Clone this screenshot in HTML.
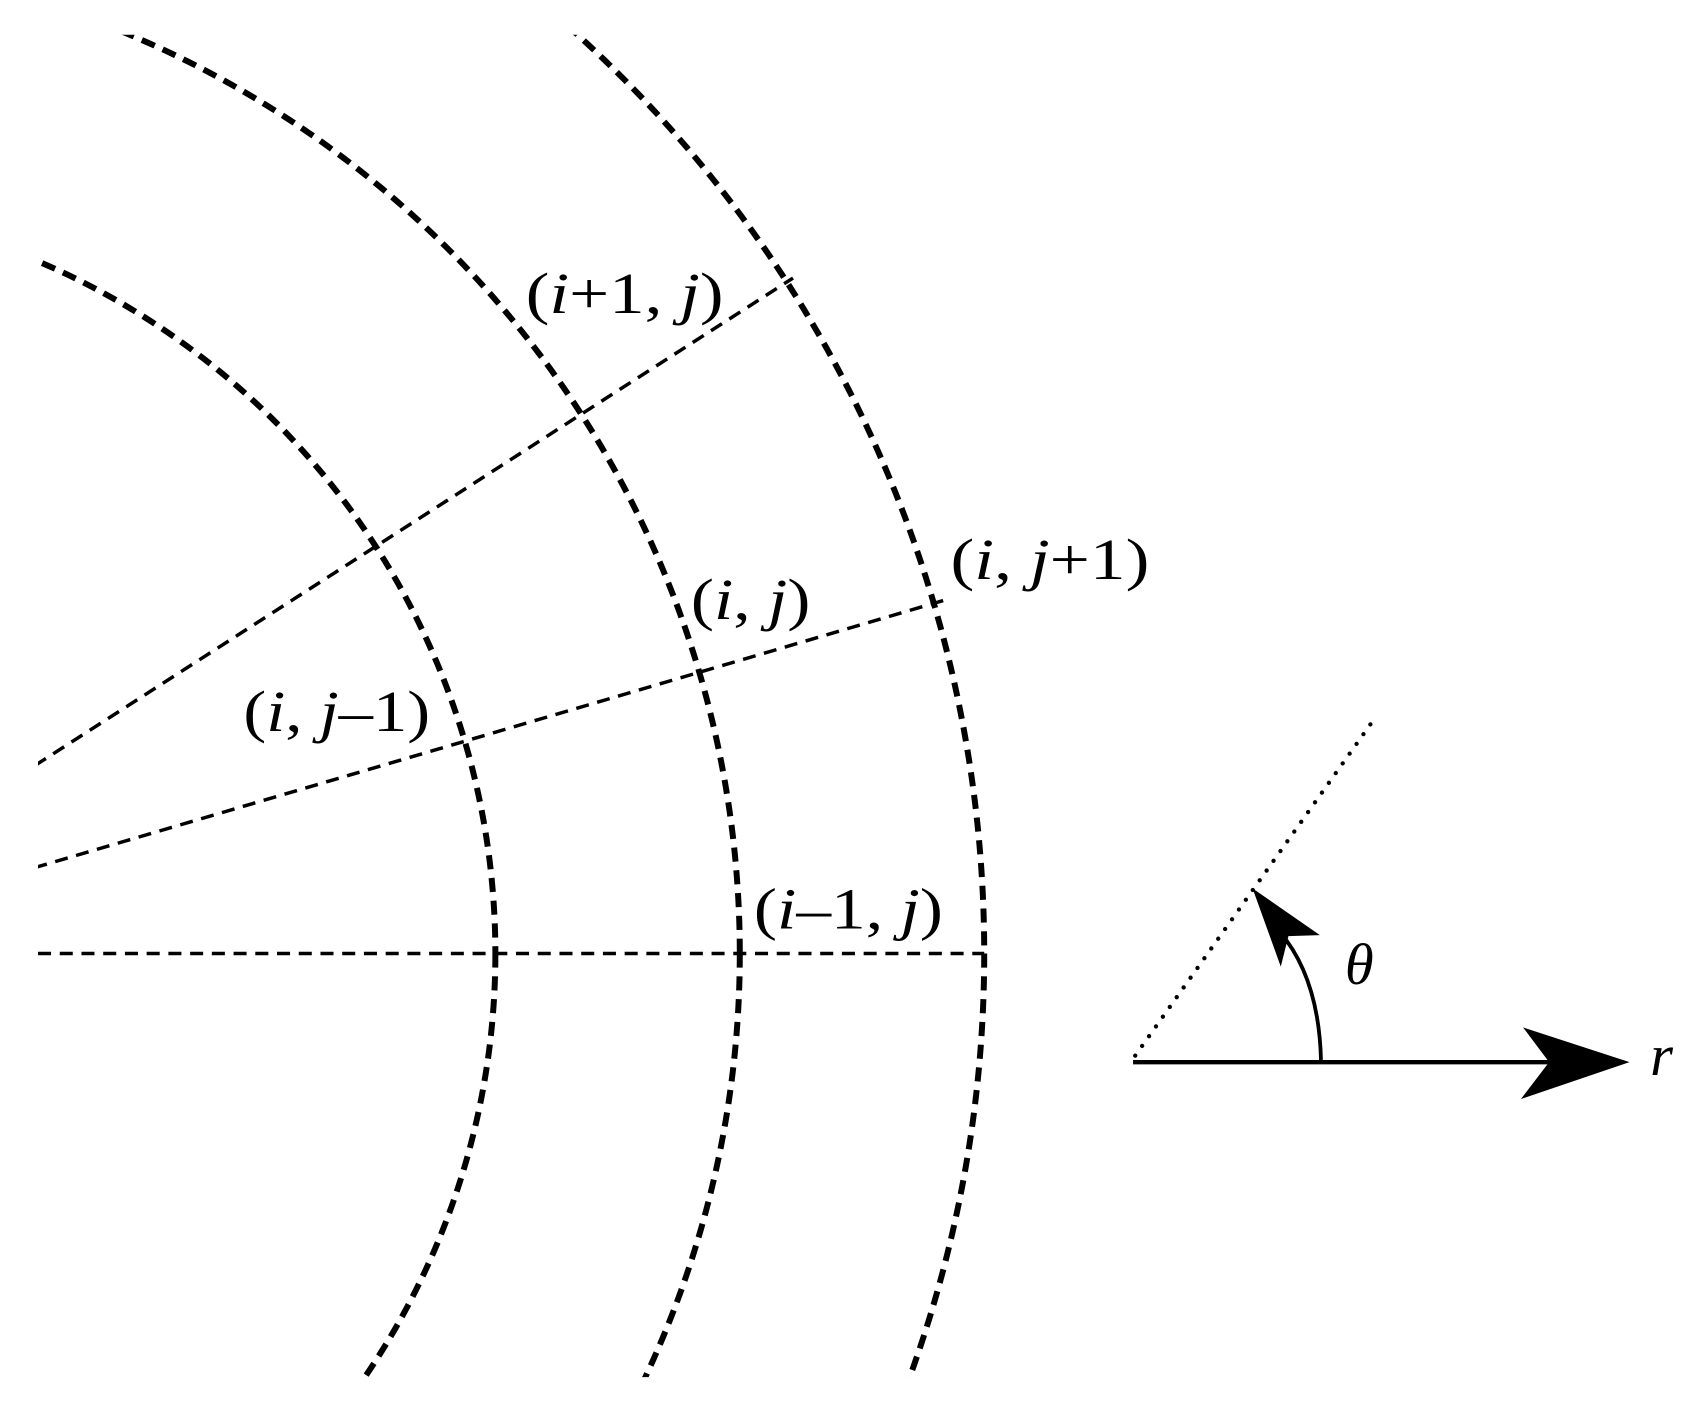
<!DOCTYPE html>
<html><head><meta charset="utf-8"><style>
html,body{margin:0;padding:0;background:#fff;overflow:hidden;width:1686px;height:1401px;}
svg{display:block;position:absolute;left:0;top:0;}
text{font-family:"Liberation Serif","Times New Roman",serif;font-size:54px;fill:#000;}
</style></head><body>
<svg width="1686" height="1401" viewBox="0 0 1552 1290" preserveAspectRatio="none">
<defs><clipPath id="c"><rect x="35" y="32" width="1000" height="1236"/></clipPath></defs>
<g clip-path="url(#c)" fill="none" stroke="#000">
<g stroke-width="5.5" stroke-dasharray="13 8">
<circle cx="-237" cy="878" r="693"/>
<circle cx="-237" cy="878" r="918"/>
<circle cx="-237" cy="878" r="1143"/>
</g>
<g stroke-width="3.2" stroke-dasharray="12 8">
<line x1="35" y1="878" x2="906" y2="878"/>
<line x1="-237" y1="878" x2="875" y2="551"/>
<line x1="-237" y1="878" x2="730" y2="256"/>
</g>
</g>
<line x1="1043" y1="978" x2="1430" y2="978" stroke="#000" stroke-width="4"/>
<polygon points="1500,978 1402,946 1426,978 1400,1012" fill="#000"/>
<line x1="1045" y1="972" x2="1265" y2="662" stroke="#000" stroke-width="4" stroke-dasharray="0 11" stroke-linecap="round"/>
<path d="M1216,976 Q1214,900 1178,858" fill="none" stroke="#000" stroke-width="3.5"/>
<polygon points="1153,818 1215,861 1186,862 1179,890" fill="#000"/>
<text x="1238" y="906" font-style="italic">θ</text>
<text x="1519" y="990" font-style="italic">r</text>
<text x="484" y="288" textLength="182" lengthAdjust="spacingAndGlyphs">(<tspan font-style="italic">i</tspan>+1, <tspan font-style="italic">j</tspan>)</text>
<text x="875" y="533" textLength="183" lengthAdjust="spacingAndGlyphs">(<tspan font-style="italic">i</tspan>, <tspan font-style="italic">j</tspan>+1)</text>
<text x="636" y="570" textLength="110" lengthAdjust="spacingAndGlyphs">(<tspan font-style="italic">i</tspan>, <tspan font-style="italic">j</tspan>)</text>
<text x="224" y="673" textLength="172" lengthAdjust="spacingAndGlyphs">(<tspan font-style="italic">i</tspan>, <tspan font-style="italic">j</tspan>–1)</text>
<text x="694" y="855" textLength="174" lengthAdjust="spacingAndGlyphs">(<tspan font-style="italic">i</tspan>–1, <tspan font-style="italic">j</tspan>)</text>
</svg>
</body></html>
